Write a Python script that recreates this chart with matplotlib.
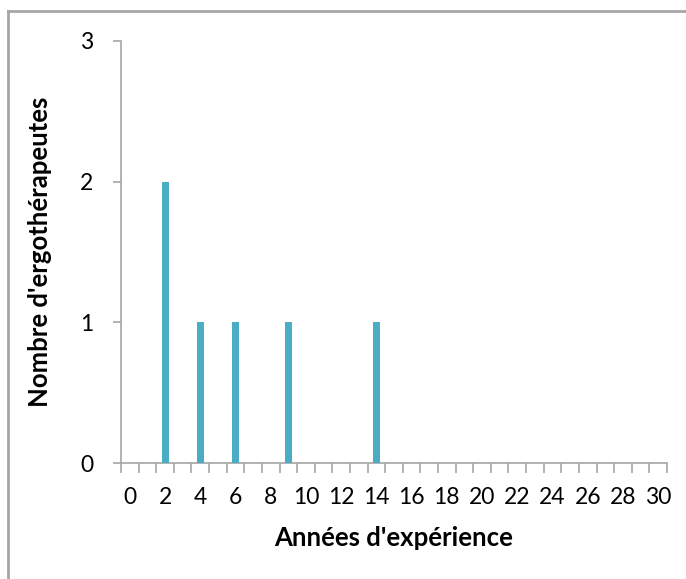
import matplotlib
matplotlib.use('Agg')
import matplotlib.pyplot as plt
from matplotlib.lines import Line2D
import numpy as np

plt.rcParams['font.family'] = ['Lato', 'DejaVu Sans']

years = list(range(0, 31))
counts = [0, 0, 2, 0, 1, 0, 1, 0, 0, 1, 0, 0, 0, 0, 1, 0,
          0, 0, 0, 0, 0, 0, 0, 0, 0, 0, 0, 0, 0, 0, 0]
y_ticks = [0, 1, 2, 3]

BAR_COLOUR = '#4BACC6'
AXIS_COLOUR = '#A6A6A6'

fig = plt.figure(figsize=(6.86, 5.79), dpi=100)
ax = fig.add_axes([0.1764, 0.2003, 0.9723 - 0.1764, 0.9292 - 0.2003])

pos = np.arange(len(years))
ax.bar(pos, counts, width=0.4, color=BAR_COLOUR, zorder=3)

ax.set_xlim(-0.5, len(years) - 0.5)
ax.set_ylim(0, 3)

# labels at category centres, tick marks on category boundaries
ax.set_xticks(pos)
ax.set_xticklabels([str(y) for y in years])
for i, lab in enumerate(ax.get_xticklabels()):
    if years[i] % 2 == 1:
        lab.set_visible(False)
ax.tick_params(axis='x', which='major', length=0, pad=17, labelsize=16.5)
ax.set_xticks(np.arange(-0.5, len(years)), minor=True)
ax.tick_params(axis='x', which='minor', length=7, width=1.2, color=AXIS_COLOUR, direction='out')

ax.set_yticks(y_ticks)
ax.tick_params(axis='y', length=6, width=1.2, color=AXIS_COLOUR, pad=14, labelsize=16.5)

for side in ['top', 'right']:
    ax.spines[side].set_visible(False)
for side in ['left', 'bottom']:
    ax.spines[side].set_color(AXIS_COLOUR)
    ax.spines[side].set_linewidth(1.2)

ax.set_xlabel("Années d'expérience", fontsize=18.5, fontweight='bold', labelpad=13)
ax.set_ylabel("Nombre d'ergothérapeutes", fontsize=18.5, fontweight='bold', labelpad=20)

# chart area border (only left and top visible in the crop)
fig.add_artist(Line2D([8 / 686, 8 / 686], [0, 1 - 11 / 579], color=AXIS_COLOUR, lw=2, transform=fig.transFigure))
fig.add_artist(Line2D([8 / 686, 1], [1 - 11 / 579, 1 - 11 / 579], color=AXIS_COLOUR, lw=2, transform=fig.transFigure))

fig.savefig('out.png', dpi=100)
